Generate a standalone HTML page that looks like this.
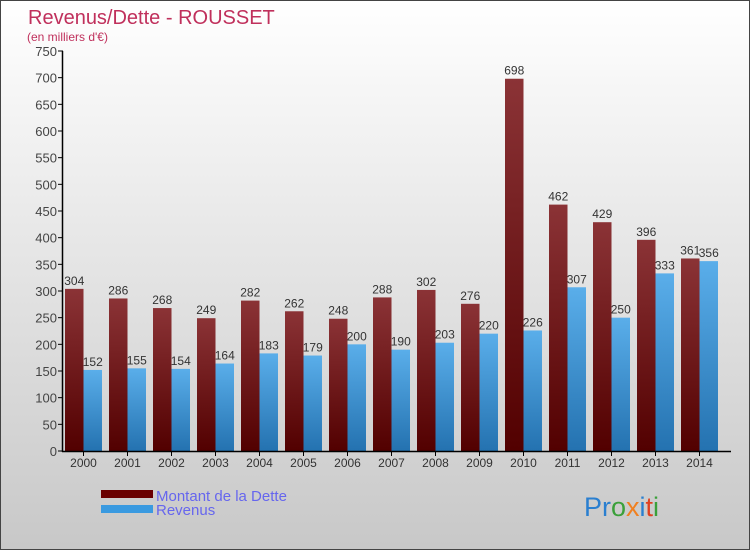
<!DOCTYPE html>
<html><head><meta charset="utf-8"><style>
body{margin:0}
#c{position:relative;width:750px;height:550px;overflow:hidden;background:linear-gradient(#ffffff,#c8c8c8);box-sizing:border-box;border:1px solid #444;font-family:"Liberation Sans",sans-serif}
</style></head><body>
<div id="c">
<svg id="s" width="750" height="550" style="position:absolute;left:0;top:0">
<defs>
<linearGradient id="gd" x1="0" y1="0" x2="0" y2="1"><stop offset="0" stop-color="#8b3336"/><stop offset="1" stop-color="#520000"/></linearGradient>
<linearGradient id="gr" x1="0" y1="0" x2="0" y2="1"><stop offset="0" stop-color="#5aaeea"/><stop offset="1" stop-color="#2472b0"/></linearGradient>
</defs>
<text x="27" y="23" font-size="20" fill="#c0305c">Revenus/Dette - ROUSSET</text>
<text x="26" y="40" font-size="12" fill="#c0305c">(en milliers d'€)</text>
<g id="g"></g>
<rect x="100" y="489" width="52" height="8" fill="#6a0000"/>
<rect x="100" y="504" width="52" height="8" fill="#3a9ae0"/>
<text x="155" y="500" font-size="15" fill="#6666ee">Montant de la Dette</text>
<text x="155" y="514" font-size="15" fill="#6666ee">Revenus</text>
<text x="583" y="515" font-size="27"><tspan fill="#2a7fd0">Pr</tspan><tspan fill="#3aa03a">o</tspan><tspan fill="#f08020">x</tspan><tspan fill="#2a7fd0">i</tspan><tspan fill="#e04020">t</tspan><tspan fill="#3aa03a">i</tspan></text>
</svg>
</div>
<script>
const years=["2000","2001","2002","2003","2004","2005","2006","2007","2008","2009","2010","2011","2012","2013","2014"];
const dette=[304,286,268,249,282,262,248,288,302,276,698,462,429,396,361];
const revenus=[152,155,154,164,183,179,200,190,203,220,226,307,250,333,356];
const ticks=[0,50,100,150,200,250,300,350,400,450,500,550,600,650,700,750];
const NS="http://www.w3.org/2000/svg";
const g=document.getElementById('g');
const y=v=>450-v*400/750;
const x0=i=>64+i*44;
const bw=18.5;
function mk(t,a){const e=document.createElementNS(NS,t);for(const k in a)e.setAttribute(k,a[k]);g.appendChild(e);return e;}
ticks.forEach(t=>{
 const l=mk('line',{x1:57,x2:62,y1:y(t),y2:y(t),stroke:'#000'});
 
 
 const tx=mk('text',{x:56,y:y(t)+5,'font-size':13,'text-anchor':'end',fill:'#444'});
 tx.textContent=t;
 
 
});
years.forEach((yr,i)=>{
 const b1=mk('rect',{x:x0(i),y:y(dette[i]),width:bw,height:450-y(dette[i]),fill:'url(#gd)'});
 
 
 const b2=mk('rect',{x:x0(i)+bw,y:y(revenus[i]),width:bw,height:450-y(revenus[i]),fill:'url(#gr)'});
 
 
 const t1=mk('text',{x:x0(i)+bw/2,y:y(dette[i])-4,'font-size':12,'text-anchor':'middle',fill:'#333'});
 t1.textContent=dette[i];
 
 
 const t2=mk('text',{x:x0(i)+bw*1.5,y:y(revenus[i])-4,'font-size':12,'text-anchor':'middle',fill:'#333'});
 t2.textContent=revenus[i];
 
 
 const tk=mk('line',{x1:x0(i)+bw,x2:x0(i)+bw,y1:450,y2:455,stroke:'#000'});
 
 
 const xl=mk('text',{x:x0(i)+bw,y:466,'font-size':12,'text-anchor':'middle',fill:'#333'});
 xl.textContent=yr;
 
 
});
const ya=mk('line',{x1:61.5,x2:61.5,y1:50,y2:451,stroke:'#000','stroke-width':1.5});


const xa=mk('line',{x1:61,x2:730,y1:450.5,y2:450.5,stroke:'#000','stroke-width':1.5});


</script>
</body></html>
